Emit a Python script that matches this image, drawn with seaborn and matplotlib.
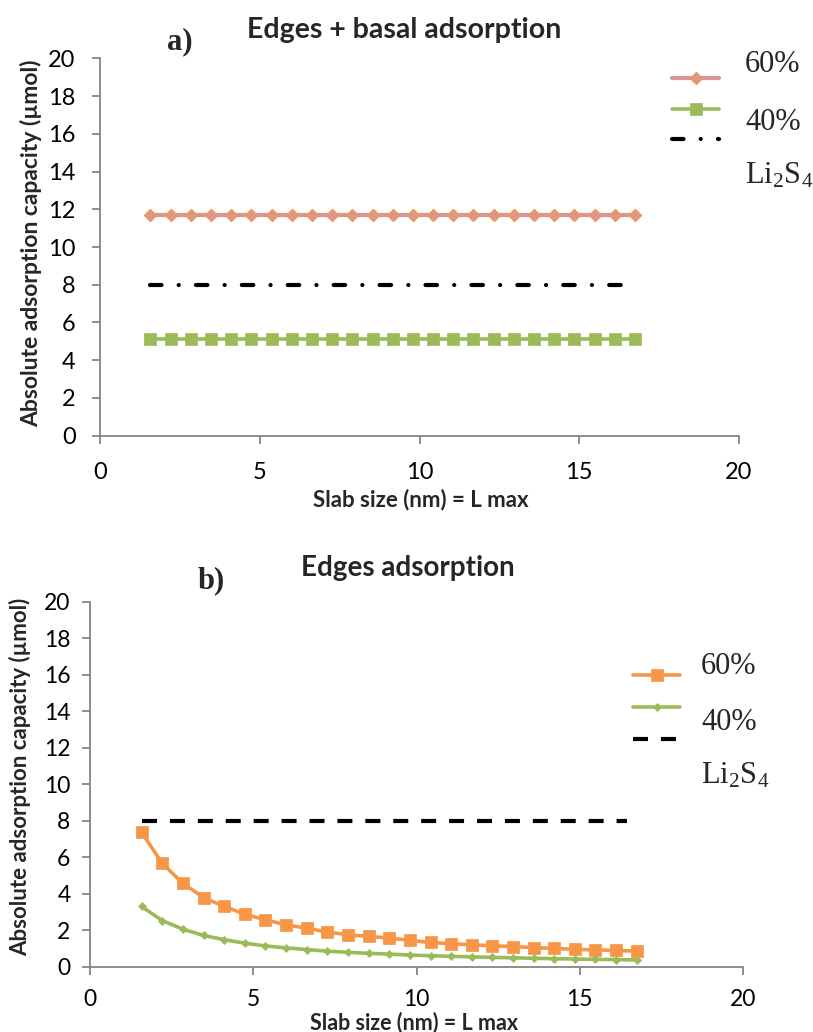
import matplotlib
matplotlib.use("Agg")
import matplotlib.pyplot as plt
import seaborn as sns
import pandas as pd

# Slab size (nm) for each computed slab
slab_size = [1.58, 2.21, 2.84, 3.48, 4.11, 4.74, 5.37, 6.00, 6.64, 7.27, 7.90, 8.53,
             9.16, 9.80, 10.43, 11.06, 11.69, 12.32, 12.96, 13.59, 14.22, 14.85,
             15.48, 16.12, 16.75]

# a) edges + basal adsorption (umol)
basal_60 = [11.72, 11.72, 11.72, 11.72, 11.72, 11.72, 11.72, 11.72, 11.72, 11.72,
            11.72, 11.72, 11.72, 11.72, 11.72, 11.72, 11.72, 11.72, 11.72, 11.72,
            11.72, 11.72, 11.72, 11.72, 11.72]
basal_40 = [5.15, 5.15, 5.15, 5.15, 5.15, 5.15, 5.15, 5.15, 5.15, 5.15,
            5.15, 5.15, 5.15, 5.15, 5.15, 5.15, 5.15, 5.15, 5.15, 5.15,
            5.15, 5.15, 5.15, 5.15, 5.15]

# b) edges-only adsorption (umol)
edge_60 = [7.36, 5.67, 4.57, 3.79, 3.30, 2.88, 2.57, 2.30, 2.11, 1.90, 1.75, 1.66,
           1.57, 1.44, 1.33, 1.26, 1.20, 1.15, 1.10, 1.05, 1.00, 0.95, 0.92, 0.89, 0.85]
edge_40 = [3.30, 2.53, 2.06, 1.71, 1.48, 1.29, 1.14, 1.03, 0.94, 0.85, 0.79, 0.73,
           0.69, 0.64, 0.60, 0.57, 0.54, 0.51, 0.49, 0.46, 0.44, 0.42, 0.40, 0.39, 0.37]

# Li2S4 amount reference line
li2s4_x = [1.58, 16.45]
li2s4_y = [8.0, 8.0]

x_ticks = [0, 5, 10, 15, 20]
y_ticks = [0, 2, 4, 6, 8, 10, 12, 14, 16, 18, 20]
series_labels = ["60%", "40%", "Li$_2$S$_4$"]

ORANGE = "#F79646"
GREEN = "#9BBB59"
PINK = "#D99694"
GREY = "#868686"

sns.set_style("white")
plt.rcParams["font.family"] = ["Lato", "DejaVu Sans"]
plt.rcParams["mathtext.fontset"] = "custom"
plt.rcParams["mathtext.rm"] = "Liberation Serif"
plt.rcParams["mathtext.it"] = "Liberation Serif"

W, H = 813, 1032
fig = plt.figure(figsize=(W / 100, H / 100), dpi=100)


def fx(px):
    return px / W


def fy(py):
    return 1 - py / H


ax_a = fig.add_axes([fx(100), fy(435.7), (739 - 100) / W, (435.7 - 58.3) / H])
ax_b = fig.add_axes([fx(90), fy(966.7), (743 - 90) / W, (966.7 - 601.7) / H])

df_a = pd.DataFrame({"x": slab_size, "s60": basal_60, "s40": basal_40})
df_b = pd.DataFrame({"x": slab_size, "s60": edge_60, "s40": edge_40})
df_li = pd.DataFrame({"x": li2s4_x, "y": li2s4_y})

# ---- panel a ----
sns.lineplot(data=df_a, x="x", y="s60", ax=ax_a, color=PINK, linewidth=3.0,
             marker="D", markersize=6.0, markerfacecolor=PINK,
             markeredgecolor=ORANGE, markeredgewidth=1.0, label="60%")
sns.lineplot(data=df_a, x="x", y="s40", ax=ax_a, color=GREEN, linewidth=2.6,
             marker="s", markersize=8.6, markerfacecolor=GREEN,
             markeredgecolor=GREEN, markeredgewidth=0.5, label="40%")
sns.lineplot(data=df_li, x="x", y="y", ax=ax_a, color="black", linewidth=3.0,
             linestyle=(0, (2.76, 4.12, 0.02, 4.12)), dash_capstyle="round",
             label="Li2S4")

# ---- panel b ----
sns.lineplot(data=df_b, x="x", y="s60", ax=ax_b, color=ORANGE, linewidth=2.6,
             marker="s", markersize=8.4, markerfacecolor=ORANGE,
             markeredgecolor=ORANGE, markeredgewidth=0.5, label="60%")
sns.lineplot(data=df_b, x="x", y="s40", ax=ax_b, color=GREEN, linewidth=2.6,
             marker="D", markersize=4.2, markerfacecolor=GREEN,
             markeredgecolor=GREEN, markeredgewidth=0.5, label="40%")
sns.lineplot(data=df_li, x="x", y="y", ax=ax_b, color="black", linewidth=3.0,
             linestyle=(0, (3.6, 3.1)), dash_capstyle="butt", label="Li2S4")

for ax, ypad, xpad, fs in ((ax_a, 11.5, 13, 17), (ax_b, 8, 10, 16.5)):
    ax.set_xlim(0, 20)
    ax.set_ylim(0, 20)
    ax.set_xticks(x_ticks)
    ax.set_yticks(y_ticks)
    ax.set_xlabel("")
    ax.set_ylabel("")
    for side in ("top", "right"):
        ax.spines[side].set_visible(False)
    for side in ("left", "bottom"):
        ax.spines[side].set_color(GREY)
        ax.spines[side].set_linewidth(1.3)
    ax.tick_params(axis="both", direction="out", length=6, width=1.3, color=GREY,
                   labelsize=fs, labelcolor="black", left=True, bottom=True)
    ax.tick_params(axis="y", pad=ypad)
    ax.tick_params(axis="x", pad=xpad)
    ax.grid(False)
    for line in ax.get_lines():
        line.set_clip_on(False)


# legends: handle samples only, labels are written beside them
def place_legend(ax, left_px, top_px, spacing):
    handles, _ = ax.get_legend_handles_labels()
    leg = ax.legend(handles, [" ", " ", " "], loc="upper left",
                    bbox_to_anchor=(fx(left_px), fy(top_px)),
                    bbox_transform=fig.transFigure, frameon=False,
                    prop={"size": 10}, handlelength=3.4, handletextpad=0.2,
                    labelspacing=spacing, borderpad=0, borderaxespad=0)
    return leg


place_legend(ax_a, 672, 73, 1.33)
place_legend(ax_b, 633, 670, 1.42)

serif = "Liberation Serif"
for (px, py), txt in zip([(745, 65), (745, 122), (745, 176)], series_labels):
    fig.text(fx(px), fy(py), txt, family=serif, fontsize=22, ha="left", va="center")
for (px, py), txt in zip([(701, 667), (701, 722), (701, 776)], series_labels):
    fig.text(fx(px), fy(py), txt, family=serif, fontsize=22, ha="left", va="center")

# titles and panel letters
fig.text(fx(404), fy(30), "Edges + basal adsorption", fontsize=20.5, fontweight="bold",
         ha="center", va="center")
fig.text(fx(180), fy(42), "a)", family=serif, fontsize=22, fontweight="bold",
         ha="center", va="center")
fig.text(fx(408), fy(568), "Edges adsorption", fontsize=20, fontweight="bold",
         ha="center", va="center")
fig.text(fx(211), fy(581), "b)", family=serif, fontsize=22, fontweight="bold",
         ha="center", va="center")

# axis titles
fig.text(fx(421), fy(500), "Slab size (nm) = L max", fontsize=16, fontweight="bold",
         ha="center", va="center")
fig.text(fx(414), fy(1023), "Slab size (nm) = L max", fontsize=15.5, fontweight="bold",
         ha="center", va="center")
fig.text(fx(31), fy(243), "Absolute adsorption capacity (\u00b5mol)", fontsize=16.5,
         fontweight="bold", rotation=90, ha="center", va="center")
fig.text(fx(20), fy(777), "Absolute adsorption capacity (\u00b5mol)", fontsize=16,
         fontweight="bold", rotation=90, ha="center", va="center")

fig.savefig("out.png", dpi=100, facecolor="white")
